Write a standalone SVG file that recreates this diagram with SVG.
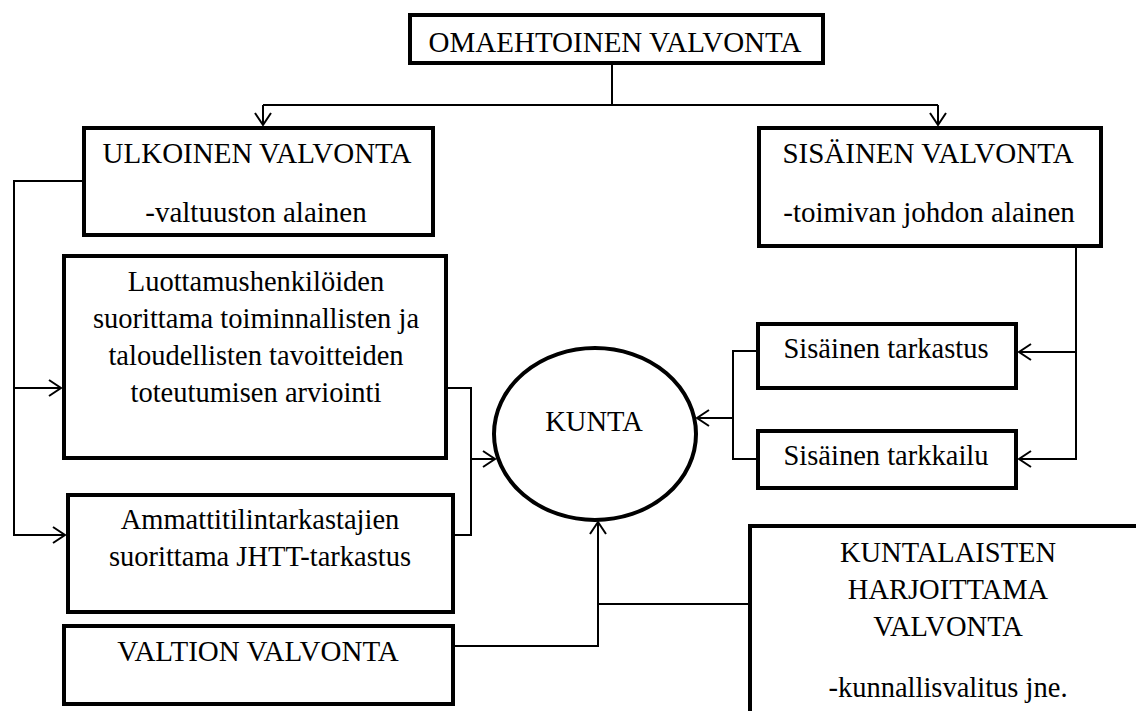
<svg xmlns="http://www.w3.org/2000/svg" width="1136" height="711" viewBox="0 0 1136 711">
  <style>
    .box { fill: #fff; stroke: #000; stroke-width: 4; }
    .conn { fill: none; stroke: #000; stroke-width: 2; }
    text { font-family: "Liberation Serif", "Times New Roman", serif; font-size: 28.5px; fill: #000; text-anchor: middle; }
    .big { font-size: 29px; }
  </style>
  <defs>
    <marker id="arrow" markerUnits="userSpaceOnUse" markerWidth="16" markerHeight="20" refX="13" refY="9" orient="auto" viewBox="0 0 16 20">
      <path d="M1,1 L13,9 L1,17" fill="none" stroke="#000" stroke-width="2"/>
    </marker>
  </defs>
  <rect width="1136" height="711" fill="#fff"/>

  <g id="connectors">
    <path class="conn" d="M612,63 V105"/>
    <path class="conn" d="M263,105 H938"/>
    <path class="conn" d="M263,105 V125" marker-end="url(#arrow)"/>
    <path class="conn" d="M938,105 V125" marker-end="url(#arrow)"/>
    <path class="conn" d="M84,181 H14 V535 H65" marker-end="url(#arrow)"/>
    <path class="conn" d="M14,388 H61" marker-end="url(#arrow)"/>
    <path class="conn" d="M446,388 H471 V535 H453"/>
    <path class="conn" d="M471,459 H495" marker-end="url(#arrow)"/>
    <path class="conn" d="M453,646 H598 V522" marker-end="url(#arrow)"/>
    <path class="conn" d="M750,604 H598"/>
    <path class="conn" d="M1076,246 V459 H1019" marker-end="url(#arrow)"/>
    <path class="conn" d="M1076,352 H1019" marker-end="url(#arrow)"/>
    <path class="conn" d="M758,351 H733 V459 H758"/>
    <path class="conn" d="M733,418 H697" marker-end="url(#arrow)"/>
  </g>

  <g id="omaehtoinen">
    <rect class="box" x="410" y="15" width="413" height="48"/>
    <text class="big" x="615" y="52">OMAEHTOINEN VALVONTA</text>
  </g>
  <g id="ulkoinen">
    <rect class="box" x="84" y="128" width="349" height="107"/>
    <text class="big" x="257" y="163">ULKOINEN VALVONTA</text>
    <text class="big" x="256" y="222">-valtuuston alainen</text>
  </g>
  <g id="sisainen">
    <rect class="box" x="759" y="128" width="342" height="118"/>
    <text class="big" x="928" y="163">SISÄINEN VALVONTA</text>
    <text class="big" x="929" y="222">-toimivan johdon alainen</text>
  </g>
  <g id="luottamus">
    <rect class="box" x="64" y="256" width="382" height="202"/>
    <text x="256" y="291">Luottamushenkilöiden</text>
    <text x="256" y="328">suorittama toiminnallisten ja</text>
    <text x="256" y="365">taloudellisten tavoitteiden</text>
    <text x="256" y="402">toteutumisen arviointi</text>
  </g>
  <g id="ammatti">
    <rect class="box" x="68" y="495" width="385" height="117"/>
    <text x="260" y="529">Ammattitilintarkastajien</text>
    <text x="260" y="566">suorittama JHTT-tarkastus</text>
  </g>
  <g id="valtion">
    <rect class="box" x="64" y="626" width="389" height="78"/>
    <text class="big" x="258" y="661">VALTION VALVONTA</text>
  </g>
  <g id="kunta">
    <ellipse cx="595" cy="434" rx="101" ry="86" fill="#fff" stroke="#000" stroke-width="4"/>
    <text x="594" y="431">KUNTA</text>
  </g>
  <g id="tarkastus">
    <rect class="box" x="758" y="324" width="258" height="64"/>
    <text x="886" y="358">Sisäinen tarkastus</text>
  </g>
  <g id="tarkkailu">
    <rect class="box" x="758" y="431" width="258" height="57"/>
    <text x="886" y="465">Sisäinen tarkkailu</text>
  </g>
  <g id="kuntalaisten">
    <rect class="box" x="750" y="526" width="400" height="200"/>
    <text x="948" y="562">KUNTALAISTEN</text>
    <text x="948" y="599">HARJOITTAMA</text>
    <text x="948" y="636">VALVONTA</text>
    <text x="948" y="697">-kunnallisvalitus jne.</text>
  </g>
</svg>
